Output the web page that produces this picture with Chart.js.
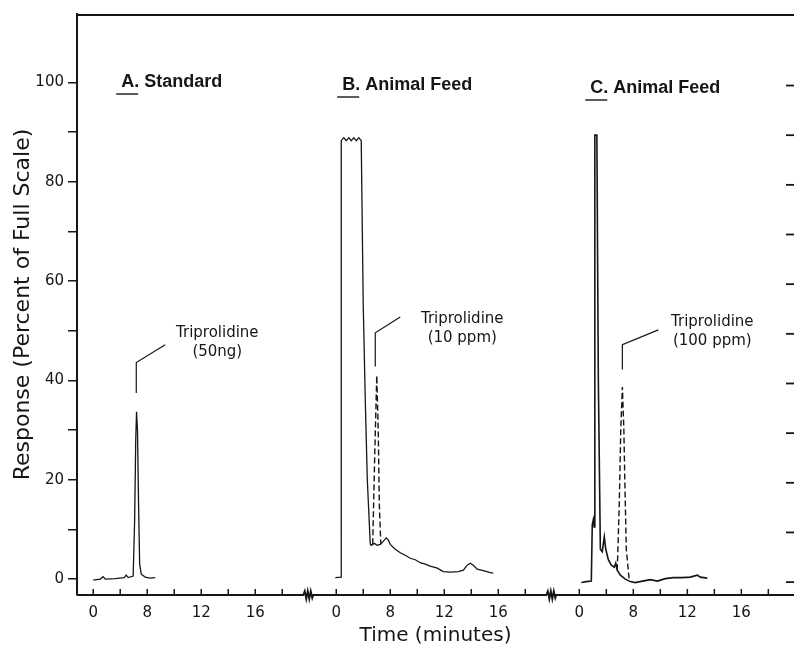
<!DOCTYPE html>
<html lang="en">
<head>
<meta charset="UTF-8">
<title>Triprolidine chromatograms</title>
<script src="https://cdn.jsdelivr.net/npm/chart.js"></script>
<style>
  html, body { margin: 0; padding: 0; background: #fff; }
  #wrap { width: 794px; height: 646px; }
</style>
</head>
<body>
<div id="wrap"><canvas id="chromChart" width="794" height="646"></canvas></div>
<script>
// Three chromatograms on one broken time axis. Times are minutes inside each
// panel, the panels are shifted along the shared axis by panelOffset.
var panelOffset = [0, 18, 36];
var panelTickMinutes = [4, 6, 8, 10, 12, 14, 16, 18];
var panelTickLabels = ['0', '', '8', '', '12', '', '16', ''];
var breakMinutes = [20, 38];
var yTickValues = [0, 10, 20, 30, 40, 50, 60, 70, 80, 90, 100];
var panelNames = ['A. Standard', 'B. Animal Feed', 'C. Animal Feed'];

// A. standard, 50 ng
var timeA = [4.00, 4.52, 4.74, 4.89, 5.63, 6.30, 6.44, 6.59, 6.96, 7.07, 7.15, 7.21, 7.28, 7.36, 7.44, 7.56, 7.85, 8.22, 8.59];
var respA = [-0.2, 0.0, 0.5, 0.0, 0.1, 0.3, 0.8, 0.3, 0.6, 12, 28, 33.7, 30, 15, 3, 1.0, 0.4, 0.2, 0.3];

// B. animal feed (solid = feed extract, dashed = spiked 10 ppm)
var timeB = [3.93, 4.37, 4.37, 4.56, 4.74, 4.93, 5.11, 5.30, 5.48, 5.67, 5.85, 5.93, 6.00, 6.15, 6.30, 6.52,
             6.59, 6.81, 7.04, 7.26, 7.48, 7.70, 7.85, 8.00, 8.37, 8.74, 9.11, 9.48, 9.85, 10.22, 10.59, 10.96,
             11.48, 11.93, 12.44, 13.04, 13.41, 13.70, 13.93, 14.15, 14.44, 14.89, 15.41, 15.63];
var respB = [0.3, 0.4, 88.3, 88.9, 88.3, 88.9, 88.3, 88.9, 88.3, 88.9, 88.3, 70, 55, 36, 20, 7.0,
             6.8, 7.2, 6.8, 7.0, 7.6, 8.3, 7.9, 7.0, 6.0, 5.3, 4.8, 4.2, 3.9, 3.3, 3.0, 2.6,
             2.2, 1.5, 1.4, 1.5, 1.8, 2.8, 3.2, 2.8, 2.0, 1.7, 1.3, 1.2];
var timeBSpiked = [6.70, 6.85, 7.00, 7.11, 7.19, 7.30];
var respBSpiked = [7, 25, 41, 30, 15, 7];

// C. animal feed (solid = feed extract, dashed = spiked 100 ppm)
var timeC = [4.15, 4.52, 4.89, 4.96, 5.04, 5.10, 5.15, 5.30, 5.41, 5.56, 5.70, 5.85, 5.96, 6.15, 6.37, 6.59,
             6.70, 6.81, 7.04, 7.41, 7.78, 8.15, 8.67, 9.26, 9.78, 10.37, 10.96, 11.63, 12.22, 12.74, 12.96, 13.48];
var respC = [-0.7, -0.5, -0.4, 11, 12, 10.5, 89.4, 89.4, 40, 6, 5.5, 8.5, 6.0, 3.9, 2.8, 2.4,
             3.2, 1.8, 0.8, 0.0, -0.5, -0.7, -0.4, -0.1, -0.4, 0.1, 0.3, 0.3, 0.4, 0.8, 0.4, 0.2];
var timeCSpiked = [6.81, 6.96, 7.07, 7.19, 7.30, 7.37, 7.48, 7.70];
var respCSpiked = [1.8, 15, 30, 38.7, 30, 20, 6, -0.3];

// callout text and leader lines, per panel
var calloutText = [['Triprolidine', '(50ng)'], ['Triprolidine', '(10 ppm)'], ['Triprolidine', '(100 ppm)']];
var calloutAt = [[13.19, 47.6], [13.33, 50.4], [13.85, 49.9]];
var leaderTime = [[9.33, 7.19, 7.19], [8.74, 6.89, 6.89], [9.85, 7.19, 7.19]];
var leaderResp = [[47.2, 43.6, 37.5], [52.8, 49.6, 42.8], [50.2, 47.2, 42.2]];
var titleAt = [[6.07, 100.1], [4.44, 99.5], [4.81, 98.9]];

var ink = '#161616';

function pts(times, resp, panel) {
    return times.map(function (t, i) {
        return { x: t + panelOffset[panel], y: resp[i] };
    });
}

function trace(data, dashed, width) {
    return {
        data: data,
        borderColor: ink,
        borderWidth: width || 1.3,
        borderDash: dashed ? [6, 3] : [],
        pointRadius: 0,
        tension: 0,
        fill: false
    };
}

var xTicks = [];
panelOffset.forEach(function (off) {
    panelTickMinutes.forEach(function (m) { xTicks.push(m + off); });
});

var datasets = [
    trace(pts(timeA, respA, 0)),
    trace(pts(timeB, respB, 1)),
    trace(pts(timeBSpiked, respBSpiked, 1), true, 1.4),
    trace(pts(timeC, respC, 2), false, 1.6),
    trace(pts(timeCSpiked, respCSpiked, 2), true, 1.4)
];
leaderTime.forEach(function (lt, p) {
    datasets.push(trace(pts(lt, leaderResp[p], p), false, 1.2));
});

// frame, broken axis, inward ticks and the text labels
var frame = {
    id: 'frame',
    afterDraw: function (chart) {
        var ctx = chart.ctx, a = chart.chartArea;
        var xs = chart.scales.x, ys = chart.scales.y;
        ctx.save();
        ctx.strokeStyle = ink;
        ctx.fillStyle = ink;

        // top border
        ctx.lineWidth = 2;
        ctx.beginPath();
        ctx.moveTo(a.left, a.top + 1);
        ctx.lineTo(a.right, a.top + 1);
        ctx.stroke();

        // time axis with the two zigzag breaks
        var zig = [[-5, 0], [-3.5, -4], [-2, 4], [-0.5, -4], [1, 4], [2.5, -4], [4, 3], [5, 0]];
        var yb = a.bottom;
        ctx.lineWidth = 1.8;
        ctx.beginPath();
        ctx.moveTo(a.left, yb);
        breakMinutes.forEach(function (b) {
            var bx = xs.getPixelForValue(b) - 1;
            zig.forEach(function (p) { ctx.lineTo(bx + p[0], yb + p[1]); });
        });
        ctx.lineTo(a.right, yb);
        ctx.stroke();

        // x ticks point up into the plot
        ctx.lineWidth = 1.5;
        xs.ticks.forEach(function (t) {
            var px = xs.getPixelForValue(t.value);
            ctx.beginPath();
            ctx.moveTo(px, yb);
            ctx.lineTo(px, yb - 6);
            ctx.stroke();
        });

        // tick marks on the right edge
        ctx.lineWidth = 1.8;
        yTickValues.forEach(function (v) {
            var py = ys.getPixelForValue(v) + 3;
            ctx.beginPath();
            ctx.moveTo(a.right - 8, py);
            ctx.lineTo(a.right, py);
            ctx.stroke();
        });

        // panel titles, first letter underlined
        ctx.font = 'bold 18px "Liberation Sans", Arial, sans-serif';
        ctx.textAlign = 'left';
        ctx.textBaseline = 'middle';
        ctx.lineWidth = 1.4;
        panelNames.forEach(function (name, p) {
            var tx = xs.getPixelForValue(titleAt[p][0] + panelOffset[p]);
            var ty = ys.getPixelForValue(titleAt[p][1]);
            ctx.fillText(name, tx, ty);
            ctx.beginPath();
            ctx.moveTo(tx - 5, ty + 12);
            ctx.lineTo(tx + 17, ty + 12);
            ctx.stroke();
        });

        // callouts
        ctx.font = '15px "DejaVu Sans", sans-serif';
        ctx.textAlign = 'center';
        calloutText.forEach(function (lines, p) {
            var cx = xs.getPixelForValue(calloutAt[p][0] + panelOffset[p]);
            var cy = ys.getPixelForValue(calloutAt[p][1]);
            ctx.fillText(lines[0], cx, cy - 9.5);
            ctx.fillText(lines[1], cx, cy + 9.5);
        });
        ctx.restore();
    }
};

Chart.defaults.font.family = '"DejaVu Sans", sans-serif';
Chart.defaults.color = ink;

var chart = new Chart(document.getElementById('chromChart').getContext('2d'), {
    type: 'line',
    data: { datasets: datasets },
    options: {
        responsive: false,
        animation: false,
        layout: { padding: { top: 14, right: 0, bottom: 0, left: 0 } },
        plugins: {
            legend: { display: false },
            tooltip: { enabled: false }
        },
        scales: {
            x: {
                type: 'linear',
                min: 2.8,
                max: 55.9,
                afterFit: function (s) { s.height = 51; },
                afterBuildTicks: function (s) {
                    s.ticks = xTicks.map(function (v) { return { value: v }; });
                },
                grid: { display: false, drawTicks: false },
                border: { display: false },
                ticks: {
                    autoSkip: false,
                    maxRotation: 0,
                    padding: 9,
                    color: ink,
                    font: { size: 15 },
                    callback: function (v, i) { return panelTickLabels[i % panelTickLabels.length]; }
                },
                title: {
                    display: true,
                    text: 'Time (minutes)',
                    color: ink,
                    font: { size: 20, lineHeight: 1 },
                    padding: { top: 0, bottom: 0 }
                }
            },
            y: {
                min: -3.2,
                max: 113.8,
                afterFit: function (s) { s.width = 77; },
                afterBuildTicks: function (s) {
                    s.ticks = yTickValues.map(function (v) { return { value: v }; });
                },
                grid: { drawOnChartArea: false, drawTicks: true, tickLength: 9, color: ink, lineWidth: 1.5 },
                border: { display: true, color: ink, width: 2 },
                ticks: {
                    padding: 4,
                    color: ink,
                    font: { size: 15 },
                    callback: function (v) { return v % 20 === 0 ? String(v) : ''; }
                },
                title: {
                    display: true,
                    text: 'Response (Percent of Full Scale)',
                    color: ink,
                    font: { size: 22, lineHeight: 1 },
                    padding: { top: 12, bottom: 0 }
                }
            }
        }
    },
    plugins: [frame]
});
</script>
</body>
</html>
